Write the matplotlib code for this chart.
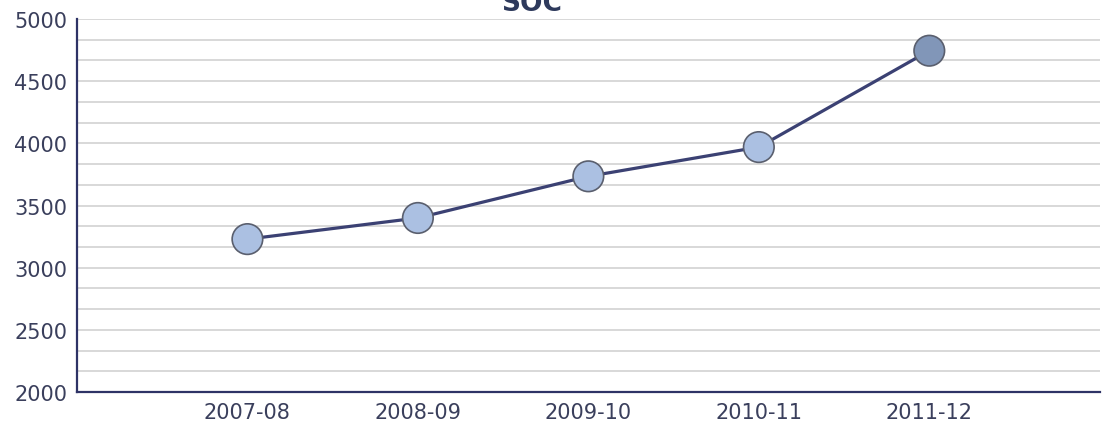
import numpy as np
import matplotlib.pyplot as plt
from matplotlib.ticker import MultipleLocator

# Data
seasons = ['2007-08', '2008-09', '2009-10', '2010-11', '2011-12']
soc = [3230, 3400, 3735, 3970, 4745]
y_ticks = [2000, 2500, 3000, 3500, 4000, 4500, 5000]

fig = plt.figure(figsize=(11.12, 4.31), dpi=100, facecolor='white')
ax = fig.add_axes([0.0692, 0.088, 0.9198, 0.8656])

x = np.arange(len(seasons))

# grid
ax.yaxis.set_minor_locator(MultipleLocator(500 / 3))
ax.grid(True, which='both', axis='y', color='#d6d6d6', linewidth=1.3, zorder=0)
ax.set_axisbelow(True)

# line + markers
ax.plot(x, soc, color='#3b4173', linewidth=2.3, zorder=2)
face = ['#abc0e2'] * (len(soc) - 1) + ['#8196b8']
ax.scatter(x, soc, s=22 ** 2, c=face, edgecolors='#5a5f6e', linewidths=1.2, zorder=3)

ax.set_xlim(-1, len(seasons))
ax.set_ylim(2000, 5000)
ax.set_xticks(x)
ax.set_xticklabels(seasons)
ax.set_yticks(y_ticks)

for s in ['top', 'right']:
    ax.spines[s].set_visible(False)
for s in ['left', 'bottom']:
    ax.spines[s].set_color('#2e3366')
    ax.spines[s].set_linewidth(1.6)

ax.tick_params(axis='both', which='both', length=0, labelsize=15,
               labelcolor='#3a3f5c')
ax.tick_params(axis='y', pad=7)
ax.tick_params(axis='x', pad=7)

fig.text(0.478, 0.974, 'SOC', ha='center', va='baseline', fontsize=19,
         fontweight='bold', color='#2e3a5c')

fig.savefig('out.png', dpi=100, facecolor='white')
